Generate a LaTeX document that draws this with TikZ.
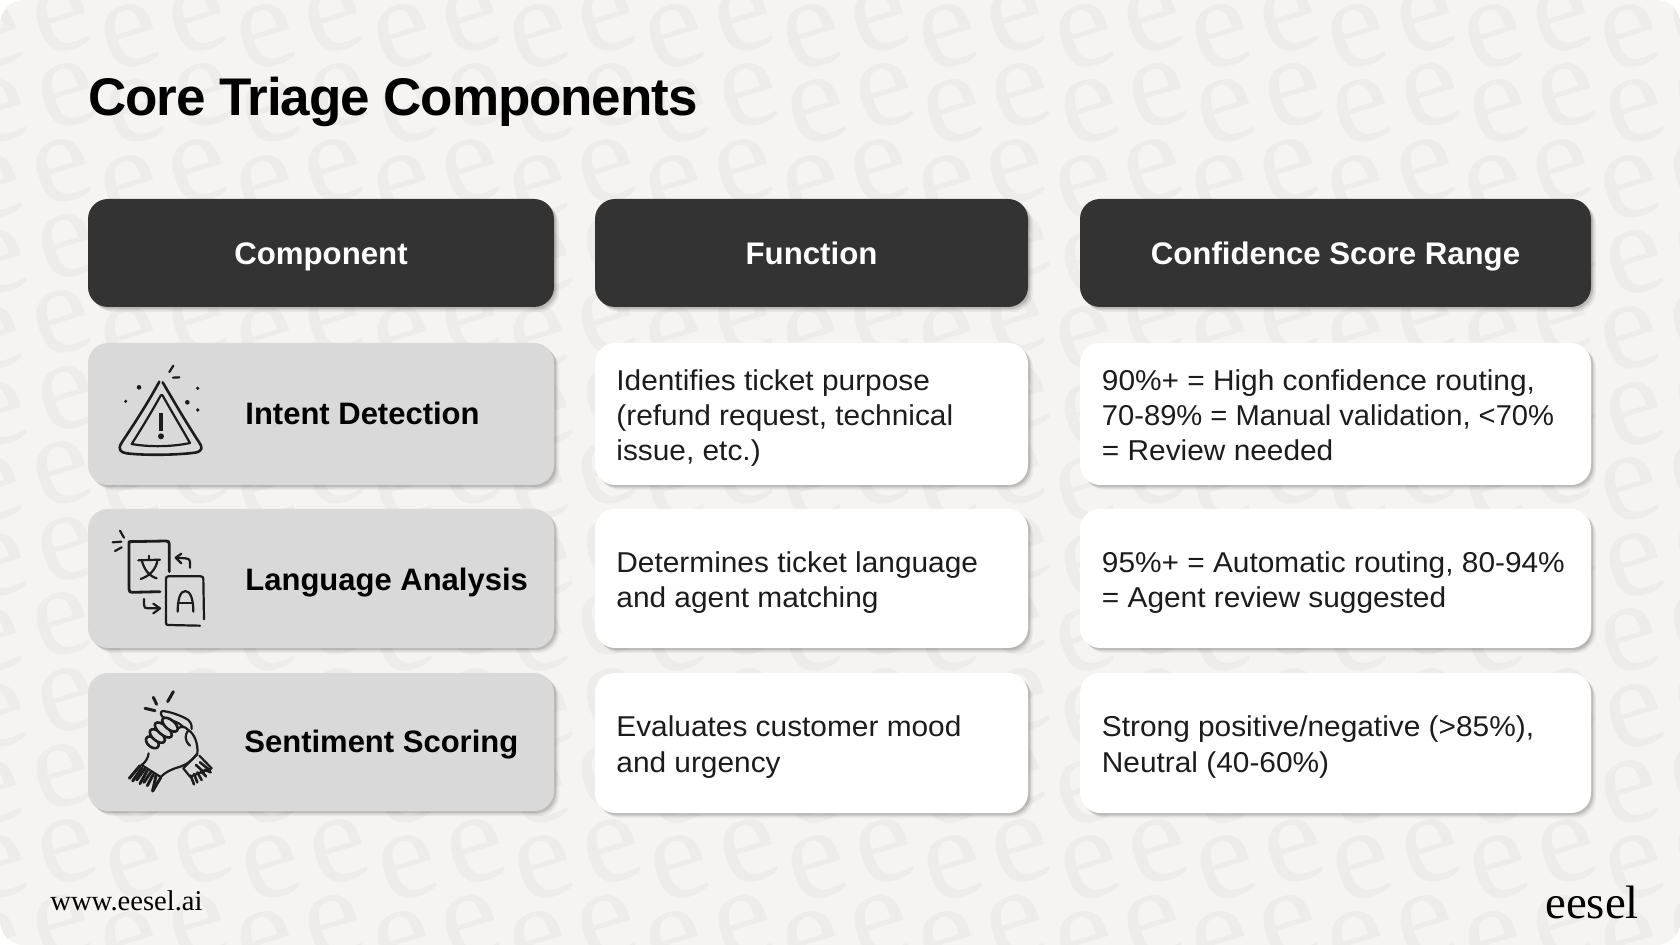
\documentclass[tikz,border=0pt]{standalone}
\usepackage{fontspec}
\setmainfont{Liberation Sans}
\newfontfamily\serifface{Liberation Serif}
\newfontfamily\bodyface[FakeStretch=1.04]{Liberation Sans}
\newfontfamily\titleface[LetterSpace=-2.1]{Liberation Sans}
\usetikzlibrary{shadows}
\definecolor{pagebg}{HTML}{F5F4F2}
\definecolor{pate}{HTML}{EDECEA}
\definecolor{headbg}{HTML}{333333}
\definecolor{rowbg}{HTML}{D9D9D9}
\definecolor{inkc}{HTML}{1C1C1C}
\tikzset{
  softshadow/.style={
    drop shadow={shadow xshift=2.5pt,shadow yshift=-2.5pt,opacity=.05,fill=black},
    drop shadow={shadow xshift=1.7pt,shadow yshift=-1.7pt,opacity=.08,fill=black},
    drop shadow={shadow xshift=1pt,shadow yshift=-1pt,opacity=.11,fill=black}},
  cardbase/.style={rectangle,rounded corners=10pt,inner sep=0pt,softshadow},
  headcard/.style={cardbase,fill=headbg,text=white,text height=11.5pt,text depth=0pt,font=\bfseries\fontsize{15.6}{18}\selectfont},
  rowcard/.style={cardbase,fill=rowbg},
  textcard/.style={cardbase,fill=white},
  celltext/.style={anchor=west,inner sep=0pt,text=inkc,align=left,font=\bodyface\fontsize{14.35}{17.7}\selectfont,
    execute at begin node={\rule{0pt}{12.4pt}},execute at end node={\rule[-3.3pt]{0pt}{3.3pt}}},
  rowlabel/.style={anchor=west,inner sep=0pt,text=black,text height=11.5pt,text depth=3.2pt,font=\bfseries\fontsize{15.5}{18}\selectfont},
  bgletter/.style={inner sep=0pt,text=pate,rotate=17,font=\serifface\fontsize{65}{65}\selectfont},
  ink/.style={draw=inkc,line cap=round,line join=round,line width=1.1pt},
  inkb/.style={ink,line width=1.4pt},
  iconscope/.style={x=0.16667pt,y=-0.16667pt},
}
\begin{document}
\begin{tikzpicture}[x=0.5pt,y=-0.5pt]
\useasboundingbox (0,0) rectangle (1680,945);
\fill[white] (0,0) rectangle (1680,945);
\begin{scope}
\clip[rounded corners=12pt] (0,0) rectangle (1680,945);
\fill[pagebg] (0,0) rectangle (1680,945);
\foreach \r in {0,...,12}{
  \foreach \c in {-1,...,24}{
    \pgfmathsetmacro{\px}{62+5*mod(\r,2)+68.2*\c}
    \pgfmathsetmacro{\py}{20+75.6*\r+16*mod(\c+2,2)}
    \node[bgletter] (bg\r x\c) at (\px,\py) {e};
  }
}
\end{scope}

\node[anchor=base west,inner sep=0pt,text=black,font=\titleface\bfseries\fontsize{26.5}{30}\selectfont] (title) at (88,116) {Core Triage Components};

% headers
\node[headcard,minimum width=233pt,minimum height=54pt] (h1) at (321,253) {Component};
\node[headcard,minimum width=216.5pt,minimum height=54pt] (h2) at (811.5,253) {Function};
\node[headcard,minimum width=255.5pt,minimum height=54pt] (h3) at (1335.5,253) {Confidence Score Range};

% row cards
\node[rowcard,minimum width=233pt,minimum height=71pt] (r1) at (321,414) {};
\node[rowcard,minimum width=233pt,minimum height=69.5pt] (r2) at (321,578.5) {};
\node[rowcard,minimum width=233pt,minimum height=69pt] (r3) at (321,742) {};
\node[rowlabel] (l1) at (245,416) {Intent Detection};
\node[rowlabel] (l2) at (245,582) {Language Analysis};
\node[rowlabel] (l3) at (244,744) {Sentiment Scoring};

% text cards
\node[textcard,minimum width=216.5pt,minimum height=71pt] (f1) at (811.5,414) {};
\node[textcard,minimum width=216.5pt,minimum height=69.5pt] (f2) at (811.5,578.5) {};
\node[textcard,minimum width=216.5pt,minimum height=70pt] (f3) at (811.5,743) {};
\node[textcard,minimum width=255.5pt,minimum height=71pt] (c1) at (1335.5,414) {};
\node[textcard,minimum width=255.5pt,minimum height=69.5pt] (c2) at (1335.5,578.5) {};
\node[textcard,minimum width=255.5pt,minimum height=70pt] (c3) at (1335.5,743) {};
\node[celltext] (f1t) at (616,418.5) {Identifies ticket purpose\\(refund request, technical\\issue, etc.)};
\node[celltext] (f2t) at (616,583) {Determines ticket language\\and agent matching};
\node[celltext] (f3t) at (616,747.5) {Evaluates customer mood\\and urgency};
\node[celltext] (c1t) at (1101.5,418.5) {90\%+ = High confidence routing,\\\scalebox{.977}[1]{70-89\% = Manual validation, <70\%}\\= Review needed};
\node[celltext] (c2t) at (1101.5,583) {95\%+ = Automatic routing, 80-94\%\\= Agent review suggested};
\node[celltext] (c3t) at (1101.5,747.5) {Strong positive/negative (>85\%),\\Neutral (40-60\%)};

% icon 1: warning triangle
\begin{scope}[shift={(80,340)},iconscope]
\draw[ink,line width=1.3pt] (238,125) .. controls (200,195) and (160,255) .. (125,308) .. controls (112,328) and (122,338) .. (140,340) .. controls (200,347) and (290,345) .. (345,338) .. controls (368,334) and (368,322) .. (358,308) .. controls (320,250) and (285,190) .. (248,127);
\draw[ink] (243,165) .. controls (215,215) and (185,265) .. (155,312) .. controls (210,322) and (280,320) .. (330,309) .. controls (305,265) and (275,215) .. (247,165);
\draw[ink,line width=2.4pt,line cap=butt] (243,220) -- (243,272);
\fill[inkc] (243,289) circle[radius=9];
\fill[inkc] (177,142) circle[radius=7];
\fill[inkc] (137,184) circle[radius=5];
\fill[inkc] (322,187) circle[radius=7];
\fill[inkc] (353,145) circle[radius=5.5];
\fill[inkc] (353,210) circle[radius=5.5];
\draw[ink] (268,96) -- (280,77);
\draw[ink] (279,113) -- (298,112);
\end{scope}

% icon 2: translate
\begin{scope}[shift={(80,505)},iconscope]
\draw[inkb] (268,200) -- (268,118) .. controls (268,110) and (265,108) .. (258,108) -- (147,110) -- (147,252) .. controls (147,260) and (150,262) .. (156,262) -- (240,260);
\draw[ink] (258,222) .. controls (258,216) and (260,214) .. (265,214) -- (362,214) .. controls (368,214) and (370,217) .. (370,222) -- (372,343);
\draw[ink] (360,362) -- (265,360) .. controls (259,360) and (258,358) .. (258,352) -- (258,222);
\draw[ink] (175,166) -- (240,164);
\draw[ink] (207,152) -- (207,164);
\draw[ink] (186,170) .. controls (195,195) and (205,212) .. (230,220);
\draw[ink] (232,170) .. controls (225,195) and (210,212) .. (182,222);
\draw[ink] (293,320) .. controls (293,285) and (300,258) .. (316,258) .. controls (332,258) and (340,285) .. (340,320);
\draw[ink] (295,295) -- (338,295);
\draw[ink] (330,188) -- (330,172) .. controls (330,162) and (322,160) .. (316,160) -- (290,158);
\draw[ink] (304,146) -- (287,158) -- (304,175);
\draw[ink] (192,282) -- (192,300) .. controls (192,308) and (196,310) .. (204,310) -- (238,310);
\draw[ink] (220,296) -- (240,310) -- (220,325);
\draw[ink] (120,77) -- (132,98);
\draw[ink] (98,112) -- (124,110);
\draw[ink] (105,138) -- (125,127);
\end{scope}

% icon 3: clasped hands
\begin{scope}[shift={(120,685)},iconscope]
\draw[ink,line width=1.5pt] (143,50) -- (160,20);
\draw[ink,line width=1.5pt] (110,58) -- (100,37);
\draw[ink,line width=1.5pt] (75,70) -- (105,77);
% right hand
\draw[ink] (205,135) .. controls (222,145) and (235,175) .. (232,205) .. controls (218,225) and (198,240) .. (178,246) .. controls (155,252) and (135,262) .. (122,276);
\draw[ink] (205,135) .. controls (192,120) and (178,125) .. (168,135);
\draw[ink] (205,135) .. controls (195,150) and (192,165) .. (210,182);
% thumb
\draw[ink] (128,78) .. controls (150,80) and (185,92) .. (205,105) .. controls (215,115) and (216,125) .. (215,132);
\draw[ink] (128,78) .. controls (118,80) and (122,95) .. (135,100) .. controls (155,106) and (178,112) .. (190,126);
% fingers
\foreach \fx/\fy/\fl in {97/172/22,112/153/27,130/135/31,150/119/28}{
  \draw[ink,line width=1.3pt,fill=rowbg] (\fx,\fy) ellipse[x radius=\fl,y radius=14,rotate=-40];
}
% left wrist and cuff
\draw[ink] (86,205) .. controls (84,220) and (76,232) .. (65,240);
\draw[ink] (65,240) -- (122,276);
\foreach \ax/\ay/\bx/\by in {60/242/28/280,66/248/38/288,74/252/50/285,82/256/60/296,92/262/72/292,100/268/82/302,108/272/98/318,122/278/98/318}{
  \draw[ink,line width=1.5pt] (\ax,\ay) -- (\bx,\by);
}
% right wrist and cuff
\draw[ink] (232,208) -- (190,250);
\draw[ink] (190,250) -- (210,275);
\draw[ink] (238,212) -- (275,250);
\draw[ink] (210,275) -- (275,250);
\foreach \ax/\ay/\bx/\by in {212/272/222/298,222/267/232/292,232/262/245/285,242/258/258/274,254/254/272/262,240/232/270/256,228/240/252/262}{
  \draw[ink,line width=1.3pt] (\ax,\ay) -- (\bx,\by);
}
\end{scope}

% footer
\node[anchor=base west,inner sep=0pt,text=black,font=\serifface\fontsize{14.3}{16}\selectfont] (www) at (50,910) {www.eesel.ai};
\node[anchor=base west,inner sep=0pt,text=black,font=\serifface\fontsize{23.4}{26}\selectfont] (logo) at (1545,918) {eesel};
\end{tikzpicture}
\end{document}
